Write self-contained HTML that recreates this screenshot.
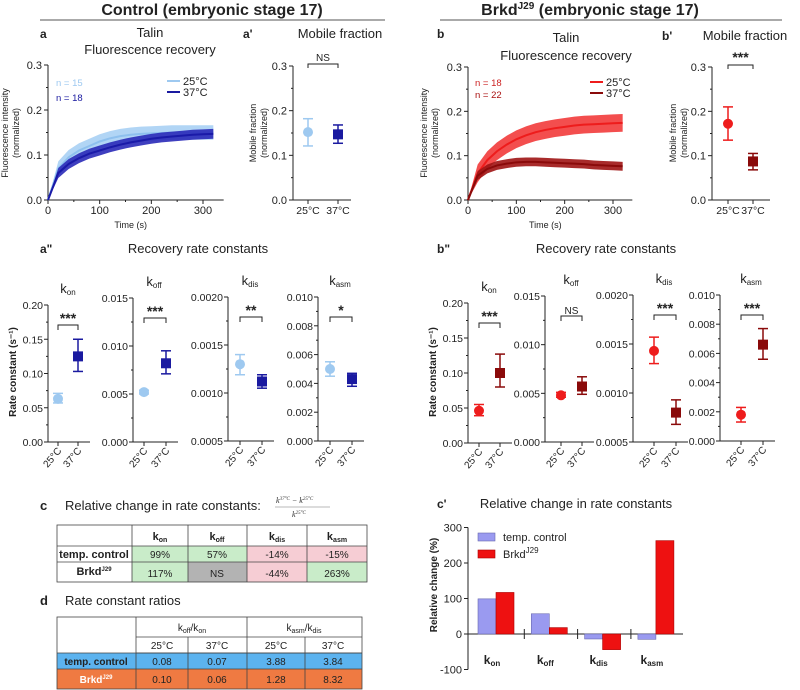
<!DOCTYPE html>
<html><head><meta charset="utf-8"><style>
body{margin:0;background:#fff;}
svg{display:block;font-family:"Liberation Sans",sans-serif;}
</style></head><body>
<svg id="fig" width="800" height="690" viewBox="0 0 800 690" xmlns="http://www.w3.org/2000/svg">
<text x="212" y="15" font-size="16" font-weight="bold" text-anchor="middle" fill="#222">Control (embryonic stage 17)</text>
<line x1="40" y1="20" x2="385" y2="20" stroke="#777" stroke-width="1.2"/>
<text x="590" y="15" font-size="16" font-weight="bold" text-anchor="middle" fill="#222">Brkd<tspan dy="-6" font-size="10">J29</tspan><tspan dy="6"> (embryonic stage 17)</tspan></text>
<line x1="440" y1="20" x2="782" y2="20" stroke="#777" stroke-width="1.2"/>
<g id="root"></g>

<!-- table c -->
<text x="40" y="510" font-size="13" font-weight="bold" fill="#222">c</text>
<text x="65" y="510" font-size="13" fill="#222">Relative change in rate constants:</text>
<g font-family="Liberation Serif,serif" font-style="italic" font-size="8" fill="#333">
<text x="276" y="503">k<tspan dy="-3" font-size="5">37°C</tspan><tspan dy="3"> − k</tspan><tspan dy="-3" font-size="5">25°C</tspan></text>
<line x1="275" y1="507" x2="330" y2="507" stroke="#777" stroke-width="0.6"/>
<text x="292" y="517">k<tspan dy="-3" font-size="5">25°C</tspan></text>
</g>
<g font-size="10" text-anchor="middle" fill="#222">
<rect x="132" y="546" width="56" height="16" fill="#c9ecc9"/><rect x="188" y="546" width="59" height="16" fill="#c9ecc9"/>
<rect x="247" y="546" width="60" height="16" fill="#f6cdd4"/><rect x="307" y="546" width="60" height="16" fill="#f6cdd4"/>
<rect x="132" y="562" width="56" height="20" fill="#c9ecc9"/><rect x="188" y="562" width="59" height="20" fill="#b3b3b3"/>
<rect x="247" y="562" width="60" height="20" fill="#f6cdd4"/><rect x="307" y="562" width="60" height="20" fill="#c9ecc9"/>
<g stroke="#444" stroke-width="0.8" fill="none"><rect x="57" y="525" width="310" height="57"/>
<line x1="57" y1="546" x2="367" y2="546"/><line x1="57" y1="562" x2="367" y2="562"/>
<line x1="132" y1="525" x2="132" y2="582"/><line x1="188" y1="525" x2="188" y2="582"/><line x1="247" y1="525" x2="247" y2="582"/><line x1="307" y1="525" x2="307" y2="582"/></g>
<g font-weight="bold" font-size="11"><text x="160" y="540">k<tspan font-size="7" dy="2">on</tspan></text><text x="217" y="540">k<tspan font-size="7" dy="2">off</tspan></text><text x="277" y="540">k<tspan font-size="7" dy="2">dis</tspan></text><text x="337" y="540">k<tspan font-size="7" dy="2">asm</tspan></text>
<text x="94" y="558">temp. control</text><text x="94" y="575">Brkd<tspan font-size="6" dy="-4">J29</tspan></text></g>
<text x="160" y="558">99%</text><text x="217" y="558">57%</text><text x="277" y="558">-14%</text><text x="337" y="558">-15%</text>
<text x="160" y="577">117%</text><text x="217" y="577">NS</text><text x="277" y="577">-44%</text><text x="337" y="577">263%</text>
</g>

<!-- table d -->
<text x="40" y="605" font-size="13" font-weight="bold" fill="#222">d</text>
<text x="65" y="605" font-size="13" fill="#222">Rate constant ratios</text>
<g font-size="10" text-anchor="middle" fill="#222">
<rect x="57" y="653" width="305" height="16" fill="#5cb3ef"/><rect x="57" y="669" width="305" height="20" fill="#ef7a42"/>
<g stroke="#444" stroke-width="0.8" fill="none"><rect x="57" y="617" width="305" height="72"/>
<line x1="136" y1="637" x2="362" y2="637"/><line x1="136" y1="653" x2="362" y2="653"/><line x1="57" y1="653" x2="362" y2="653"/><line x1="57" y1="669" x2="362" y2="669"/>
<line x1="136" y1="617" x2="136" y2="689"/><line x1="247" y1="617" x2="247" y2="689"/><line x1="188" y1="637" x2="188" y2="689"/><line x1="305" y1="637" x2="305" y2="689"/></g>
<text x="192" y="631">k<tspan font-size="7" dy="2">off</tspan><tspan dy="-2">/k</tspan><tspan font-size="7" dy="2">on</tspan></text>
<text x="304" y="631">k<tspan font-size="7" dy="2">asm</tspan><tspan dy="-2">/k</tspan><tspan font-size="7" dy="2">dis</tspan></text>
<text x="162" y="649">25°C</text><text x="217" y="649">37°C</text><text x="276" y="649">25°C</text><text x="333" y="649">37°C</text>
<g font-weight="bold"><text x="96" y="665">temp. control</text><text x="96" y="683" fill="#fff">Brkd<tspan font-size="6" dy="-4">J29</tspan></text></g>
<text x="162" y="665">0.08</text><text x="217" y="665">0.07</text><text x="276" y="665">3.88</text><text x="333" y="665">3.84</text>
<text x="162" y="683">0.10</text><text x="217" y="683">0.06</text><text x="276" y="683">1.28</text><text x="333" y="683">8.32</text>
</g>
</svg>
<script>
// ---- data ----
const times=[0,20,40,60,80,100,120,140,160,180,200,220,240,260,280,300,320];
const ctrl25=[0,.07,.095,.11,.12,.13,.137,.142,.145,.147,.148,.149,.15,.15,.15,.15,.15];
const ctrl37=[0,.06,.08,.093,.103,.11,.117,.123,.128,.132,.136,.139,.141,.143,.145,.146,.147];
const brkd25=[0,.06,.09,.11,.125,.137,.146,.153,.158,.162,.165,.168,.17,.171,.172,.173,.174];
const brkd37=[0,.055,.07,.078,.082,.085,.086,.086,.085,.084,.083,.082,.081,.079,.078,.077,.076];
const ctrl25sd=.016, ctrl37sd=.011, brkd25sd=.02, brkd37sd=.01;
const fracTicks=[0,0.1,0.2,0.3];
const ctrlMobile=[0.152,0.147], ctrlMobileLo=[0.121,0.127], ctrlMobileHi=[0.182,0.168];
const brkdMobile=[0.172,0.087], brkdMobileLo=[0.135,0.068], brkdMobileHi=[0.21,0.105];
const rateNames=['on','off','dis','asm'];
const ctrlRate=[[.063,.125],[.0052,.0082],[.0013,.00112],[.005,.0043]];
const ctrlRateLo=[[.057,.103],[.005,.0071],[.00119,.00105],[.0045,.0038]];
const ctrlRateHi=[[.071,.15],[.0054,.0095],[.0014,.00119],[.0055,.0047]];
const brkdRate=[[.046,.10],[.0048,.0057],[.00143,.0008],[.0018,.0066]];
const brkdRateLo=[[.039,.08],[.0046,.0049],[.0013,.00068],[.0013,.0056]];
const brkdRateHi=[[.055,.127],[.0051,.0067],[.00157,.00093],[.0023,.0077]];
const ctrlSig=['***','***','**','*'], brkdSig=['***','NS','***','***'];
const rateTicks=[[0,.05,.1,.15,.2],[0,.005,.01,.015],[.0005,.001,.0015,.002],[0,.002,.004,.006,.008,.01]];
const rateTickLabels=[['0.00','0.05','0.10','0.15','0.20'],['0.000','0.005','0.010','0.015'],['0.0005','0.0010','0.0015','0.0020'],['0.000','0.002','0.004','0.006','0.008','0.010']];
const changeCats=['on','off','dis','asm'];
const changeCtrl=[99,57,-14,-15];
const changeBrkd=[117,18,-44,263];
const changeTicks=[-100,0,100,200,300];

const NS='http://www.w3.org/2000/svg';
const root=document.getElementById('root');
function el(tag,attrs,parent,txt){const e=document.createElementNS(NS,tag);for(const k in attrs)e.setAttribute(k,attrs[k]);if(txt!==undefined)e.textContent=txt;(parent||root).appendChild(e);return e;}
function line(x1,y1,x2,y2,c,w,p){return el('line',{x1,y1,x2,y2,stroke:c||'#222','stroke-width':w||1},p);}
function txt(x,y,s,opt,p){const o=Object.assign({x,y,'font-size':10,fill:'#222'},opt||{});return el('text',o,p,s);}
function sub(x,y,base,s,opt,p){const t=txt(x,y,'',opt,p);const a=document.createElementNS(NS,'tspan');a.textContent=base;t.appendChild(a);const b=document.createElementNS(NS,'tspan');b.setAttribute('font-size','8');b.setAttribute('dy','2');b.textContent=s;t.appendChild(b);return t;}

function recovery(g,x0,x1,y0,y1,xmax,series){
  const xs=t=>x0+t*(x1-x0)/300, ys=v=>y0+v*(y1-y0)/0.3;
  line(x0,y0,x0,ys(0.3),'#222',1,g);line(x0,y0,xs(340),y0,'#222',1,g);
  fracTicks.forEach(v=>{line(x0-4,ys(v),x0,ys(v),'#222',1,g);txt(x0-6,ys(v)+4,v.toFixed(1),{'text-anchor':'end','font-size':11},g);
    if(v<0.3)line(x0-2,ys(v+0.05),x0,ys(v+0.05),'#222',1,g);});
  [0,100,200,300].forEach(t=>{line(xs(t),y0,xs(t),y0+4,'#222',1,g);txt(xs(t),y0+14,String(t),{'text-anchor':'middle','font-size':11},g);});
  [50,150,250].forEach(t=>line(xs(t),y0,xs(t),y0+2,'#222',1,g));
  txt((x0+xs(320))/2,y0+28,'Time (s)',{'text-anchor':'middle','font-size':9},g);
  series.forEach(s=>{
    const top=s.v.map((v,i)=>xs(times[i])+','+ys(Math.max(0,v+(i?s.sd:0)))).join(' ');
    const bot=s.v.map((v,i)=>xs(times[i])+','+ys(Math.max(0,v-(i?s.sd:0)))).reverse().join(' ');
    const band=el('polygon',{points:top+' '+bot,fill:s.band,opacity:0.9},g);
    
    
    const pl=el('polyline',{points:s.v.map((v,i)=>xs(times[i])+','+ys(v)).join(' '),fill:'none',stroke:s.c,'stroke-width':2},g);
    
    
  });
}
function yTitle(g,x,y,lines,fs,bold){const t=el('g',{transform:`translate(${x},${y}) rotate(-90)`},g);lines.forEach((l,i)=>txt(0,i*(fs+2),l,{'text-anchor':'middle','font-size':fs,'font-weight':bold?'bold':'normal'},t));return t;}

function mobile(g,x0,y0,y1,cx,vals,lo,hi,cols,sig,shapes){
  const ys=v=>y0+v*(y1-y0)/0.3;
  line(x0,y0,x0,ys(0.3),'#222',1,g);line(x0,y0,x0+58,y0,'#222',1,g);
  fracTicks.forEach(v=>{line(x0-4,ys(v),x0,ys(v),'#222',1,g);txt(x0-6,ys(v)+4,v.toFixed(1),{'text-anchor':'end','font-size':11},g);
    if(v<0.3)line(x0-2,ys(v+0.05),x0,ys(v+0.05),'#222',1,g);});
  ['25°C','37°C'].forEach((l,i)=>{line(cx[i],y0,cx[i],y0+4,'#222',1,g);txt(cx[i],y0+14,l,{'text-anchor':'middle','font-size':10.5},g);});
  vals.forEach((v,i)=>{
    line(cx[i],ys(lo[i]),cx[i],ys(hi[i]),cols[i],1.5,g);line(cx[i]-5,ys(lo[i]),cx[i]+5,ys(lo[i]),cols[i],1.5,g);line(cx[i]-5,ys(hi[i]),cx[i]+5,ys(hi[i]),cols[i],1.5,g);
    const m=shapes[i]=='c'?el('circle',{cx:cx[i],cy:ys(v),r:5,fill:cols[i]},g):el('rect',{x:cx[i]-5,y:ys(v)-5,width:10,height:10,fill:cols[i]},g);
    
    
  });
  const by=ys(0.3)-2;
  el('polyline',{points:`${cx[0]},${by+4} ${cx[0]},${by} ${cx[1]},${by} ${cx[1]},${by+4}`,fill:'none',stroke:'#222','stroke-width':1},g);
  txt((cx[0]+cx[1])/2,by-3,sig,{'text-anchor':'middle','font-size':sig=='NS'?10:14,'font-weight':sig=='NS'?'normal':'bold'},g);
}

function rates(g,axes,vals,lo,hi,cols,sigs){
  axes.forEach((a,k)=>{
    const tk=rateTicks[k],mn=tk[0],mx=tk[tk.length-1];
    const ys=v=>a.y0+(v-mn)*(a.y1-a.y0)/(mx-mn);
    line(a.x,a.y0,a.x,a.y1,'#222',1,g);line(a.x,a.y0,a.c[1]+12,a.y0,'#222',1,g);
    tk.forEach((v,i)=>{line(a.x-4,ys(v),a.x,ys(v),'#222',1,g);txt(a.x-5,ys(v)+4,rateTickLabels[k][i],{'text-anchor':'end','font-size':10.5},g);
      if(i<tk.length-1)line(a.x-2,ys((v+tk[i+1])/2),a.x,ys((v+tk[i+1])/2),'#222',1,g);});
    sub(a.c[0]+10,a.y1-12,'k',rateNames[k],{'text-anchor':'middle','font-size':13},g);
    ['25°C','37°C'].forEach((l,i)=>{line(a.c[i],a.y0,a.c[i],a.y0+4,'#222',1,g);
      txt(0,0,l,{'text-anchor':'end','font-size':10,transform:`translate(${a.c[i]+4},${a.y0+9}) rotate(-50)`},g);});
    vals[k].forEach((v,i)=>{
      const c=cols[i];
      line(a.c[i],ys(lo[k][i]),a.c[i],ys(hi[k][i]),c,1.5,g);line(a.c[i]-5,ys(lo[k][i]),a.c[i]+5,ys(lo[k][i]),c,1.5,g);line(a.c[i]-5,ys(hi[k][i]),a.c[i]+5,ys(hi[k][i]),c,1.5,g);
      const m=i==0?el('circle',{cx:a.c[i],cy:ys(v),r:5,fill:c},g):el('rect',{x:a.c[i]-5,y:ys(v)-5,width:10,height:10,fill:c},g);
      
      
    });
    const by=a.y1+20;
    el('polyline',{points:`${a.c[0]},${by+5} ${a.c[0]},${by} ${a.c[1]},${by} ${a.c[1]},${by+5}`,fill:'none',stroke:'#222','stroke-width':1},g);
    txt((a.c[0]+a.c[1])/2,by-2,sigs[k],{'text-anchor':'middle','font-size':sigs[k]=='NS'?10:14,'font-weight':sigs[k]=='NS'?'normal':'bold'},g);
  });
}

let g=el('g',{});
txt(40,38,'a',{'font-size':12,'font-weight':'bold'},g);
txt(150,37,'Talin',{'text-anchor':'middle','font-size':13},g);txt(150,54,'Fluorescence recovery',{'text-anchor':'middle','font-size':13},g);
recovery(g,48,203,200,65,340,[{v:ctrl25,sd:ctrl25sd,c:'#8ec0ee',band:'#a9d0f4',name:'ctrl-25'},{v:ctrl37,sd:ctrl37sd,c:'#1a1aa8',band:'#2a2ab8',name:'ctrl-37'}]);
yTitle(g,8,133,['Fluorescence intensity','(normalized)'],9);
txt(56,86,'n = 15',{'font-size':9.5,fill:'#9ec9f0'},g);txt(56,101,'n = 18',{'font-size':9.5,fill:'#1a1aa0'},g);
line(167,81,180,81,'#9ec9f0',2,g);txt(183,85,'25°C',{'font-size':11},g);line(167,92,180,92,'#1a1aa0',2,g);txt(183,96,'37°C',{'font-size':11},g);
g=el('g',{});
txt(243,38,"a'",{'font-size':12,'font-weight':'bold'},g);txt(340,38,'Mobile fraction',{'text-anchor':'middle','font-size':13},g);
mobile(g,293,200,66,[308,338],ctrlMobile,ctrlMobileLo,ctrlMobileHi,['#9ec9f0','#1a1aa0'],'NS',['c','s']);
yTitle(g,256,133,['Mobile fraction','(normalized)'],9);
g=el('g',{});
txt(437,38,'b',{'font-size':12,'font-weight':'bold'},g);
txt(566,42,'Talin',{'text-anchor':'middle','font-size':13},g);txt(566,60,'Fluorescence recovery',{'text-anchor':'middle','font-size':13},g);
recovery(g,468,613,200,67,340,[{v:brkd25,sd:brkd25sd,c:'#ee1c1c',band:'#f23b3b',name:'brkd-25'},{v:brkd37,sd:brkd37sd,c:'#8a0a0a',band:'#9e1414',name:'brkd-37'}]);
yTitle(g,427,133,['Fluorescence intensity','(normalized)'],9);
txt(475,86,'n = 18',{'font-size':9.5,fill:'#c22'},g);txt(475,98,'n = 22',{'font-size':9.5,fill:'#a11'},g);
line(590,82,603,82,'#ee1c1c',2,g);txt(606,86,'25°C',{'font-size':11},g);line(590,93,603,93,'#8a0a0a',2,g);txt(606,97,'37°C',{'font-size':11},g);
g=el('g',{});
txt(662,40,"b'",{'font-size':12,'font-weight':'bold'},g);txt(745,40,'Mobile fraction',{'text-anchor':'middle','font-size':13},g);
mobile(g,712,200,67,[728,753],brkdMobile,brkdMobileLo,brkdMobileHi,['#ee1c1c','#8a0a0a'],'***',['c','s']);
yTitle(g,676,133,['Mobile fraction','(normalized)'],9);
g=el('g',{});
txt(40,253,'a"',{'font-size':12,'font-weight':'bold'},g);txt(198,253,'Recovery rate constants',{'text-anchor':'middle','font-size':13},g);
rates(g,[{x:48,y0:442,y1:305,c:[58,78]},{x:133,y0:442,y1:298,c:[144,166]},{x:228,y0:441,y1:297,c:[240,262]},{x:318,y0:441,y1:297,c:[330,352]}],ctrlRate,ctrlRateLo,ctrlRateHi,['#9ec9f0','#1a1aa0'],ctrlSig);
yTitle(g,16,372,['Rate constant (s⁻¹)'],10,true);
g=el('g',{});
txt(437,253,'b"',{'font-size':12,'font-weight':'bold'},g);txt(606,253,'Recovery rate constants',{'text-anchor':'middle','font-size':13},g);
rates(g,[{x:468,y0:443,y1:303,c:[479,500]},{x:545,y0:442,y1:296,c:[561,582]},{x:633,y0:442,y1:295,c:[654,676]},{x:720,y0:441,y1:295,c:[741,763]}],brkdRate,brkdRateLo,brkdRateHi,['#ee1c1c','#8a0a0a'],brkdSig);
yTitle(g,436,372,['Rate constant (s⁻¹)'],10,true);
g=el('g',{});
txt(437,508,"c'",{'font-size':12,'font-weight':'bold'},g);txt(576,508,'Relative change in rate constants',{'text-anchor':'middle','font-size':13},g);
{
 const x0=468,ys=v=>634-v*0.355,gw=53.3,bw=18;
 line(x0,ys(-100),x0,ys(300),'#222',1,g);line(x0,ys(0),x0+215,ys(0),'#222',1,g);
 changeTicks.forEach(v=>{line(x0-4,ys(v),x0,ys(v),'#222',1,g);txt(x0-6,ys(v)+4,String(v),{'text-anchor':'end','font-size':11},g);});
 changeCats.forEach((c,i)=>{
   const gx=x0+10+i*gw;
   if(i>0)line(gx-7,ys(0)-5,gx-7,ys(0)+5,'#222',1,g);
   const b1=el('rect',{x:gx,y:Math.min(ys(0),ys(changeCtrl[i])),width:bw,height:Math.abs(ys(changeCtrl[i])-ys(0)),fill:'#9a9af0',stroke:'#6a6ab0','stroke-width':0.6},g);
   
   
   const b2=el('rect',{x:gx+bw,y:Math.min(ys(0),ys(changeBrkd[i])),width:bw,height:Math.abs(ys(changeBrkd[i])-ys(0)),fill:'#ee1111',stroke:'#a00','stroke-width':0.6},g);
   
   
   sub(gx+bw-4,664,'k',c,{'text-anchor':'middle','font-size':12,'font-weight':'bold'},g);
 });
 yTitle(g,437,585,['Relative change (%)'],10,true);
 el('rect',{x:478,y:533,width:17,height:8,fill:'#9a9af0',stroke:'#6a6ab0','stroke-width':0.6},g);txt(503,541,'temp. control',{'font-size':11},g);
 el('rect',{x:478,y:550,width:17,height:8,fill:'#ee1111',stroke:'#a00','stroke-width':0.6},g);
 const lt=txt(503,558,'Brkd',{'font-size':11},g);const sp=document.createElementNS(NS,'tspan');sp.setAttribute('dy','-5');sp.setAttribute('font-size','8');sp.textContent='J29';lt.appendChild(sp);
}
</script>
</body></html>
